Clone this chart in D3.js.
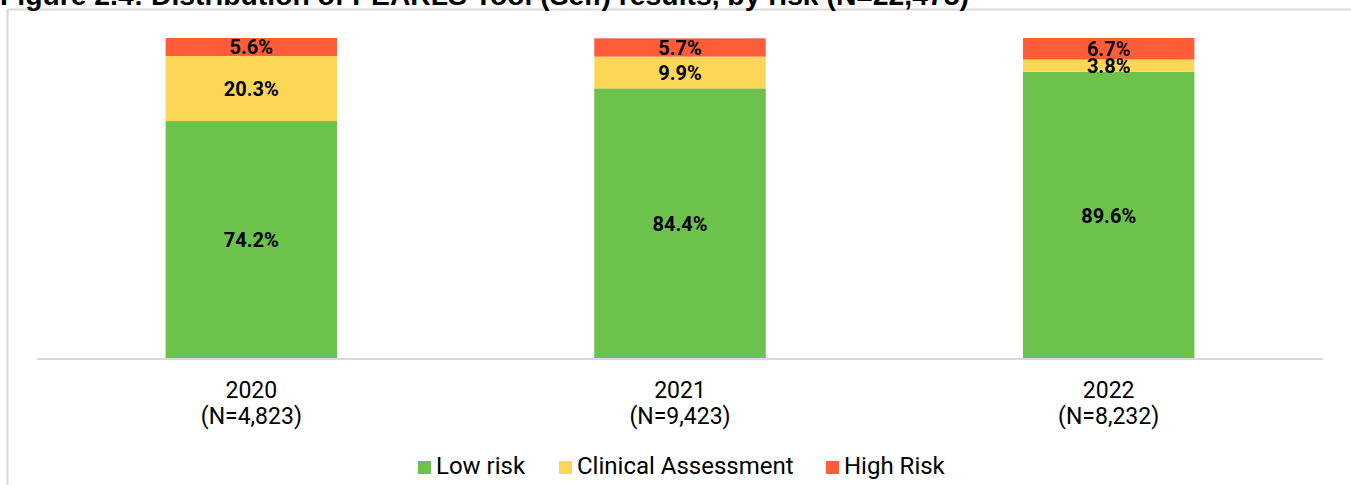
<!DOCTYPE html>
<html>
<head>
<meta charset="utf-8">
<script src="https://cdn.jsdelivr.net/npm/d3@7"></script>
<style>
  body { margin: 0; background: #fff; }
  svg { display: block; }
</style>
</head>
<body>
<div id="chart"></div>
<script>
const years = ['2020', '2021', '2022'];
const counts = ['(N=4,823)', '(N=9,423)', '(N=8,232)'];
const lowRisk = [74.2, 84.4, 89.6];
const clinical = [20.3, 9.9, 3.8];
const highRisk = [5.6, 5.7, 6.7];
const seriesNames = ['Low risk', 'Clinical Assessment', 'High Risk'];

const width = 1351;
const height = 485;
const color = ['#6cc24a', '#fcd757', '#ff5c39'];

const rows = years.map((y, i) => ({
    year: y,
    'Low risk': lowRisk[i],
    'Clinical Assessment': clinical[i],
    'High Risk': highRisk[i]
}));

const svg = d3.select('#chart')
    .append('svg')
    .attr('width', width)
    .attr('height', height);

// frame round the chart, cut off by the window at right and bottom
svg.append('rect')
    .attr('x', 7.5)
    .attr('y', 9.5)
    .attr('width', 1400)
    .attr('height', 520)
    .style('fill', 'none')
    .style('stroke', '#d9d9d9')
    .style('stroke-width', 2);

// Title (clipped by top edge)
svg.append('text')
    .attr('x', 0)
    .attr('y', 5)
    .style('font-family', 'Liberation Sans, Arial, sans-serif')
    .style('font-weight', 'bold')
    .style('font-size', '28.3px')
    .text('Figure 2.4: Distribution of PEARLS Tool (Self) results, by risk (N=22,478)');

const x = d3.scaleBand()
    .domain(years)
    .range([37, 1323])
    .paddingInner(0.6)
    .paddingOuter(0.3);

const y = d3.scaleLinear()
    .domain([0, 100.1])
    .range([359, 38]);

const stack = d3.stack().keys(seriesNames);
const layers = stack(rows);

const groups = svg.selectAll('.layer')
    .data(layers)
    .enter()
    .append('g')
    .attr('class', 'layer')
    .style('fill', (d, i) => color[i]);

groups.selectAll('rect')
    .data((d) => d)
    .enter()
    .append('rect')
    .attr('x', (d) => x(d.data.year))
    .attr('width', x.bandwidth())
    .attr('y', (d) => y(d[1]))
    .attr('height', (d) => y(d[0]) - y(d[1]));

// value labels
layers.forEach((layer) => {
    svg.selectAll(null)
        .data(layer)
        .enter()
        .append('text')
        .attr('x', (d) => x(d.data.year) + x.bandwidth() / 2)
        .attr('y', (d) => (y(d[0]) + y(d[1])) / 2)
        .attr('dy', '0.36em')
        .style('text-anchor', 'middle')
        .style('font-family', 'Roboto, sans-serif')
        .style('font-weight', 'bold')
        .style('font-size', '20px')
        .style('fill', '#000')
        .text((d) => d.data[layer.key].toFixed(1) + '%');
});

// x axis
const xAxis = svg.append('g')
    .attr('transform', 'translate(0,359)')
    .call(d3.axisBottom(x).tickSize(0).tickPadding(0));

xAxis.select('.domain')
    .attr('d', 'M37,0H1323')
    .style('stroke', '#d9d9d9')
    .style('stroke-width', 2);

xAxis.selectAll('.tick text').remove();
xAxis.selectAll('.tick').each(function (d, i) {
    const t = d3.select(this).append('text')
        .style('text-anchor', 'middle')
        .style('font-family', 'Roboto, sans-serif')
        .style('font-size', '23px')
        .style('fill', '#000');
    t.append('tspan').attr('x', 0).attr('y', 39).text(d);
    t.append('tspan').attr('x', 0).attr('y', 65).text(counts[i]);
});

// legend
const legendX = [418, 559, 826];
const legend = svg.selectAll('.legend')
    .data(seriesNames)
    .enter()
    .append('g')
    .attr('transform', (d, i) => `translate(${legendX[i]},461)`);

legend.append('rect')
    .attr('width', 13)
    .attr('height', 13)
    .style('fill', (d, i) => color[i]);

legend.append('text')
    .attr('x', 18)
    .attr('y', 13)
    .style('font-family', 'Roboto, sans-serif')
    .style('font-size', '24px')
    .style('fill', '#000')
    .text((d) => d);
</script>
</body>
</html>
